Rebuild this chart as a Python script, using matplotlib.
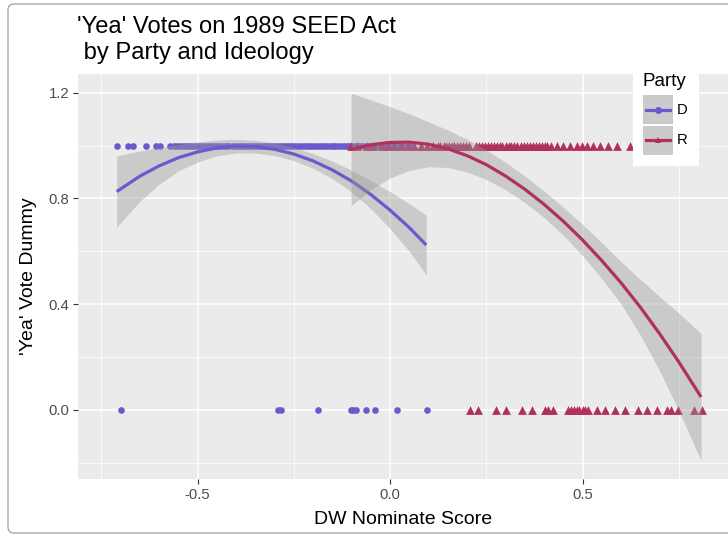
import matplotlib
matplotlib.use("Agg")
import matplotlib.pyplot as plt
from matplotlib.lines import Line2D
from matplotlib.patches import Rectangle, FancyBboxPatch
from matplotlib.transforms import IdentityTransform
import numpy as np

plt.rcParams["font.family"] = ["Liberation Sans", "DejaVu Sans"]

TITLE_1 = "'Yea' Votes on 1989 SEED Act"
TITLE_2 = " by Party and Ideology"
X_LABEL = "DW Nominate Score"
Y_LABEL = "'Yea' Vote Dummy"
PARTIES = ["D", "R"]
X_TICKS = [-0.5, 0.0, 0.5]
X_TICK_LABELS = ["-0.5", "0.0", "0.5"]
Y_TICKS = [0.0, 0.4, 0.8, 1.2]
Y_TICK_LABELS = ["0.0", "0.4", "0.8", "1.2"]

# Democrats voting yea (y = 1) / nay (y = 0), DW-Nominate first dimension
D_YES_X = [-0.710, -0.680, -0.667, -0.635, -0.608, -0.597, -0.571, -0.562, -0.555,
           -0.548, -0.541, -0.533, -0.527, -0.519, -0.512, -0.503, -0.497, -0.489,
           -0.481, -0.474, -0.466, -0.459, -0.451, -0.446, -0.438, -0.431, -0.423,
           -0.417, -0.409, -0.402, -0.394, -0.388, -0.381, -0.373, -0.366, -0.359,
           -0.351, -0.344, -0.337, -0.330, -0.322, -0.316, -0.308, -0.301, -0.293,
           -0.286, -0.279, -0.272, -0.265, -0.257, -0.251, -0.243, -0.236, -0.229,
           -0.221, -0.214, -0.207, -0.199, -0.193, -0.185, -0.178, -0.171, -0.163,
           -0.156, -0.149, -0.142, -0.134, -0.127, -0.120, -0.113, -0.106, -0.098,
           -0.091, -0.084, -0.077, -0.069, -0.062, -0.055, -0.048, -0.040, -0.033,
           -0.026, -0.019, -0.011, -0.004, 0.004, 0.012, 0.021, 0.033, 0.046, 0.058]
D_NO_X = [-0.699, -0.290, -0.283, -0.188, -0.101, -0.095, -0.088, -0.063, -0.039,
          0.017, 0.095]

# Republicans
R_YES_X = [-0.101, -0.085, -0.061, -0.044, -0.022, -0.006, 0.011, 0.028, 0.047,
           0.063, 0.081, 0.097, 0.112, 0.124, 0.131, 0.139, 0.146, 0.152, 0.160,
           0.167, 0.175, 0.183, 0.190, 0.198, 0.205, 0.224, 0.231, 0.239, 0.246,
           0.254, 0.262, 0.269, 0.277, 0.285, 0.292, 0.300, 0.308, 0.315, 0.322,
           0.329, 0.340, 0.348, 0.356, 0.363, 0.371, 0.379, 0.387, 0.394, 0.402,
           0.409, 0.417, 0.433, 0.450, 0.468, 0.485, 0.498, 0.511, 0.528, 0.545,
           0.567, 0.589, 0.623, 0.652, 0.681]
R_NO_X = [0.208, 0.229, 0.275, 0.301, 0.342, 0.368, 0.403, 0.411, 0.424, 0.463,
          0.470, 0.477, 0.485, 0.492, 0.500, 0.507, 0.515, 0.537, 0.558, 0.584,
          0.610, 0.645, 0.667, 0.694, 0.719, 0.729, 0.749, 0.790, 0.810]

# smooths with 95% band half-widths
D_FIT_X = [-0.710, -0.650, -0.600, -0.550, -0.500, -0.450, -0.400, -0.350, -0.300,
           -0.250, -0.200, -0.150, -0.100, -0.050, 0.000, 0.050, 0.094]
D_FIT_Y = [0.826, 0.884, 0.923, 0.954, 0.976, 0.991, 0.998, 0.996, 0.986,
           0.968, 0.942, 0.908, 0.866, 0.815, 0.756, 0.690, 0.624]
D_CI = [0.135, 0.095, 0.070, 0.050, 0.038, 0.030, 0.026, 0.024, 0.024,
        0.025, 0.028, 0.033, 0.041, 0.053, 0.070, 0.090, 0.113]
R_FIT_X = [-0.101, -0.050, 0.000, 0.050, 0.100, 0.150, 0.200, 0.250, 0.300, 0.350,
           0.400, 0.450, 0.500, 0.550, 0.600, 0.650, 0.700, 0.750, 0.808]
R_FIT_Y = [0.985, 1.003, 1.012, 1.013, 1.005, 0.988, 0.962, 0.928, 0.885, 0.835,
           0.778, 0.714, 0.643, 0.565, 0.481, 0.389, 0.289, 0.182, 0.049]
R_CI = [0.213, 0.170, 0.135, 0.107, 0.085, 0.071, 0.062, 0.056, 0.052, 0.050,
        0.050, 0.053, 0.059, 0.068, 0.080, 0.105, 0.140, 0.185, 0.240]

COLORS = {"D": "#6A5ACD", "R": "#B03060"}
BAND = "#999999"

W, H = 728, 534


def fx(x):
    return x / W


def fy(y):
    return 1 - y / H


fig = plt.figure(figsize=(W / 100, H / 100), dpi=100)
ax = fig.add_axes([fx(78), fy(479), (728 - 78) / W, (479 - 74) / H])
ax.set_facecolor("#EBEBEB")
for s in ax.spines.values():
    s.set_visible(False)

# points first, smooths drawn over them (ggplot layer order)
ax.scatter(D_YES_X, np.ones(len(D_YES_X)), s=23, color=COLORS["D"], lw=0, zorder=2)
ax.scatter(D_NO_X, np.zeros(len(D_NO_X)), s=23, color=COLORS["D"], lw=0, zorder=2)
ax.scatter(R_YES_X, np.ones(len(R_YES_X)), s=40, marker="^", color=COLORS["R"], lw=0, zorder=2)
ax.scatter(R_NO_X, np.zeros(len(R_NO_X)), s=40, marker="^", color=COLORS["R"], lw=0, zorder=2)

z = 3
for fx_, fy_, ci, p in [(D_FIT_X, D_FIT_Y, D_CI, "D"), (R_FIT_X, R_FIT_Y, R_CI, "R")]:
    xs, ys, hw = np.array(fx_), np.array(fy_), np.array(ci)
    ax.fill_between(xs, ys - hw, ys + hw, color=BAND, alpha=0.4, lw=0, zorder=z)
    ax.plot(xs, ys, color=COLORS[p], lw=2.3, solid_capstyle="butt",
            solid_joinstyle="round", zorder=z + 1)
    z += 2

ax.set_xlim(-0.8104, 0.8779)
ax.set_ylim(-0.261, 1.2707)
ax.set_xticks(X_TICKS)
ax.set_xticklabels(X_TICK_LABELS)
ax.set_yticks(Y_TICKS)
ax.set_yticklabels(Y_TICK_LABELS)
ax.set_xticks([-0.75, -0.25, 0.25, 0.75], minor=True)
ax.set_yticks([-0.2, 0.2, 0.6, 1.0], minor=True)
ax.grid(which="major", color="white", lw=1.1)
ax.grid(which="minor", color="white", lw=0.55)
ax.set_axisbelow(True)
ax.tick_params(which="major", length=3.3, width=0.8, color="#333333",
               labelcolor="#4D4D4D", labelsize=10.7, pad=3)
ax.tick_params(which="minor", length=0)

ax.set_xlabel(X_LABEL, fontsize=14, va="baseline")
ax.xaxis.set_label_coords(0.5, (479 - 524) / 405)
ax.set_ylabel(Y_LABEL, fontsize=14, va="center")
ax.yaxis.set_label_coords((29 - 78) / 650, 0.5)

fig.text(fx(77), fy(33), TITLE_1, fontsize=17.1, va="baseline")
fig.text(fx(77), fy(59), TITLE_2, fontsize=17.1, va="baseline")

# legend drawn by hand, inside the panel
fig.add_artist(Rectangle((fx(633), fy(166)), 66 / W, 104 / H, transform=fig.transFigure,
                         facecolor="white", edgecolor="none", zorder=5))
fig.text(fx(642.5), fy(86.5), "Party", fontsize=13.5, va="baseline", zorder=6)
markers = {"D": "o", "R": "^"}
for i, p in enumerate(PARTIES):
    top = 95 + i * 31
    fig.add_artist(Rectangle((fx(643), fy(top + 29)), 30 / W, 29 / H,
                             transform=fig.transFigure, facecolor="#CBCBCB",
                             edgecolor="none", zorder=6))
    yc = top + 14.5
    fig.add_artist(Line2D([fx(646), fx(670)], [fy(yc)] * 2, transform=fig.transFigure,
                          color=COLORS[p], lw=2.3, zorder=7))
    fig.add_artist(Line2D([fx(658)], [fy(yc)], transform=fig.transFigure, marker=markers[p],
                          ms=5, color=COLORS[p], mew=0, zorder=8))
    fig.text(fx(677), fy(yc), p, fontsize=10.7, va="center", zorder=8)

# light rounded frame around the image
fig.add_artist(FancyBboxPatch((8, 1), 760, 529, boxstyle="round,pad=0,rounding_size=6",
                              transform=IdentityTransform(), fill=False,
                              edgecolor="#A8A8A8", lw=1.0, zorder=9))

fig.savefig("out.png", dpi=100)
